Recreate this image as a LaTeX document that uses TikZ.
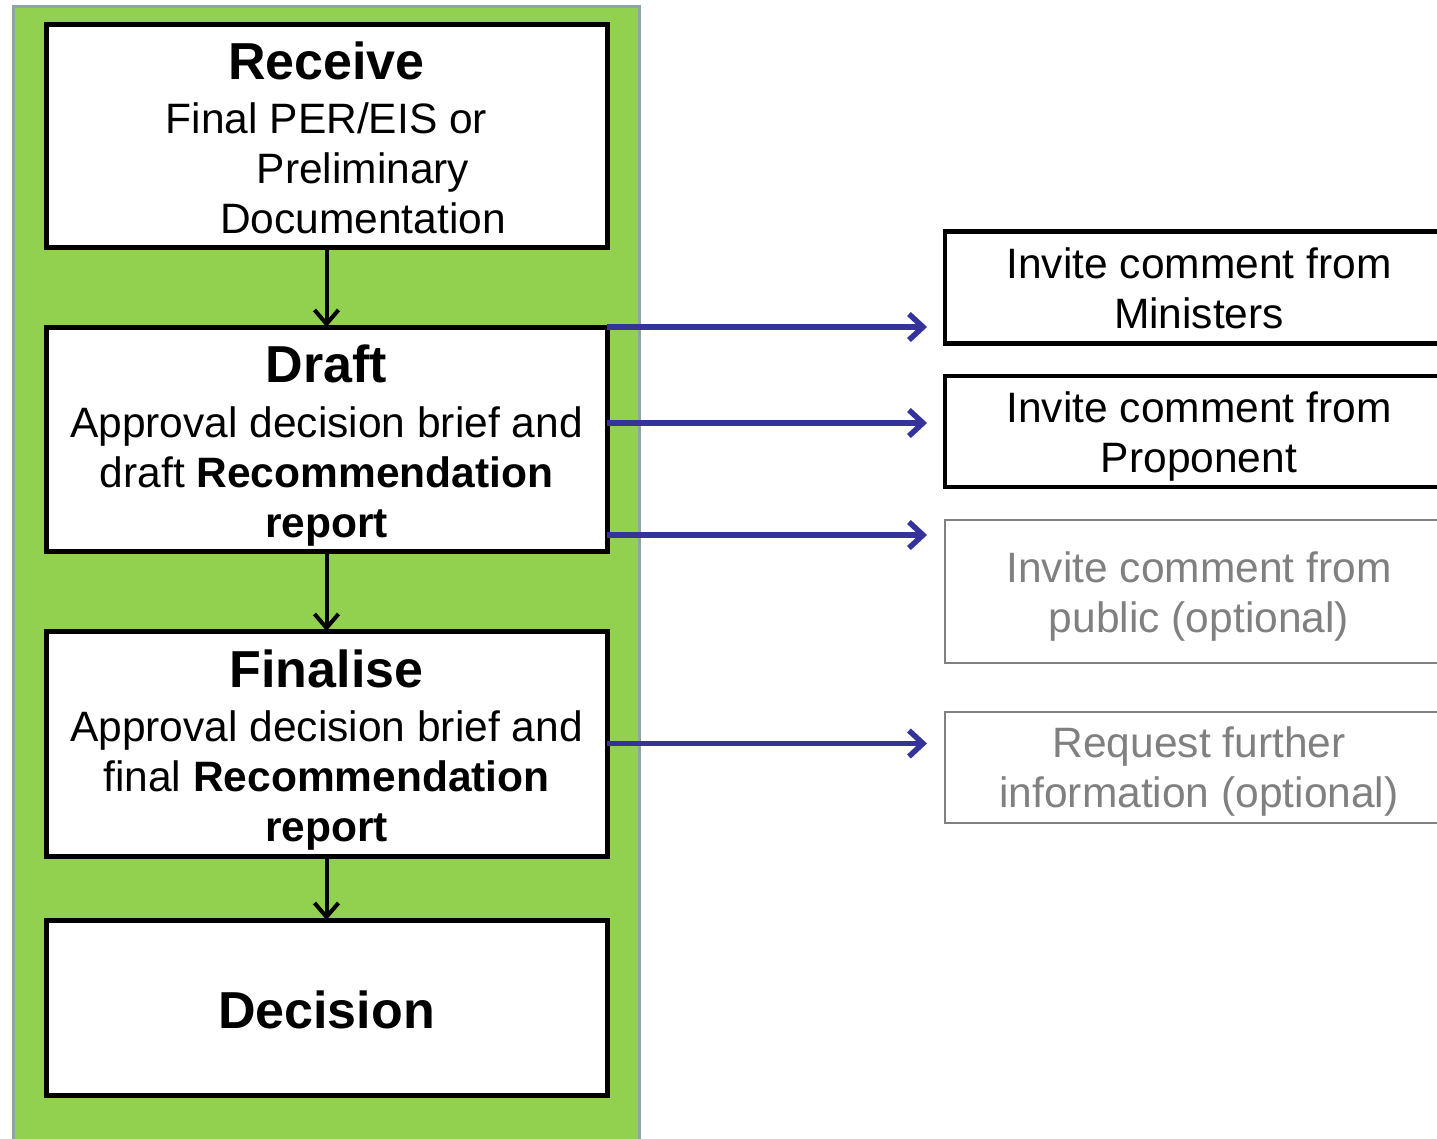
\documentclass[tikz,border=0pt]{standalone}
\usepackage{fontspec}
\setmainfont{Liberation Sans}
\usetikzlibrary{arrows.meta,calc}
\definecolor{boxgreen}{HTML}{92D050}
\definecolor{framegray}{HTML}{8FA5A5}
\definecolor{arrowblue}{HTML}{333399}
\definecolor{optgray}{HTML}{808080}
\begin{document}
\begin{tikzpicture}[x=1pt,y=-1pt,
  stagebox/.style={draw=black,line width=5pt,fill=white,inner sep=0pt,outer sep=0pt,minimum width=561pt},
  sidebox/.style={draw=black,line width=4.5pt,fill=white,inner sep=0pt,outer sep=0pt,minimum width=509pt},
  optbox/.style={draw=optgray,line width=2.5pt,fill=white,inner sep=0pt,outer sep=0pt,minimum width=509pt},
  titletext/.style={anchor=base,inner sep=0pt,font=\fontsize{52}{60}\selectfont\bfseries},
  bodytext/.style={anchor=north,inner sep=0pt,align=center,font=\fontsize{42.5}{50}\selectfont},
  flowarrow/.style={draw=black,line width=4pt,-{Straight Barb[length=14pt,width=24pt]}},
  sidearrow/.style={draw=arrowblue,line width=5.5pt,-{Straight Barb[length=14pt,width=26pt]}}]
\clip (0,0) rectangle (1437,1138);
\fill[white] (0,0) rectangle (1437,1138);
\draw[framegray,fill=boxgreen,line width=3pt] (13.5,6) rectangle (639.5,1170);

% stage boxes
\node[stagebox,minimum height=223pt] (receive) at (326.5,135.5) {};
\node[stagebox,minimum height=224pt] (draft) at (326.5,439) {};
\node[stagebox,minimum height=225pt] (final) at (326.5,743.5) {};
\node[stagebox,minimum height=175pt] (decision) at (326.5,1007.5) {};

% side boxes
\node[sidebox,minimum height=112pt] (mini) at (1199.5,287.5) {};
\node[sidebox,minimum height=111pt] (prop) at (1199.5,431.5) {};
\node[optbox,minimum height=143pt] (public) at (1199.5,591.5) {};
\node[optbox,minimum height=111pt] (request) at (1199.5,767.5) {};

% stage texts
\node[titletext] (receivet) at (326.5,79) {Receive};
\node[bodytext] (receiveb) at (326.5,93) {\rule{0pt}{40pt}Final PER/EIS or\\\hspace*{73pt}Preliminary\\\hspace*{73pt}Documentation};
\node[titletext] (draftt) at (326.5,382) {Draft};
\node[bodytext] (draftb) at (326.5,397) {\rule{0pt}{40pt}Approval decision brief and\\draft \textbf{Recommendation}\\\textbf{report}};
\node[titletext] (finalt) at (326.5,687) {Finalise};
\node[bodytext] (finalb) at (326.5,701) {\rule{0pt}{40pt}Approval decision brief and\\final \textbf{Recommendation}\\\textbf{report}};
\node[titletext] (decisiont) at (326.5,1028) {Decision};

% side texts
\node[bodytext] (minit) at (1199,238) {\rule{0pt}{40pt}Invite comment from\\Ministers};
\node[bodytext] (propt) at (1199,382) {\rule{0pt}{40pt}Invite comment from\\Proponent};
\node[bodytext,text=optgray] (publict) at (1199,542) {\rule{0pt}{40pt}Invite comment from\\public (optional)};
\node[bodytext,text=optgray] (requestt) at (1199,717) {\rule{0pt}{40pt}Request further\\information (optional)};

% flow arrows
\draw[flowarrow] (receive.south) -- (draft.north);
\draw[flowarrow] (draft.south) -- (final.north);
\draw[flowarrow] (final.south) -- (decision.north);

% side arrows
\coordinate (d1) at (draft.north east);
\coordinate (d2) at ($(draft.north east)+(0,96)$);
\coordinate (d3) at ($(draft.south east)+(0,-16)$);
\coordinate (f1) at (final.east);
\draw[sidearrow] (d1) -- ($(d1 -| mini.west)+(-18,0)$);
\draw[sidearrow] (d2) -- ($(d2 -| prop.west)+(-18,0)$);
\draw[sidearrow] (d3) -- ($(d3 -| public.west)+(-18,0)$);
\draw[sidearrow] (f1) -- ($(f1 -| request.west)+(-18,0)$);
\end{tikzpicture}
\end{document}
